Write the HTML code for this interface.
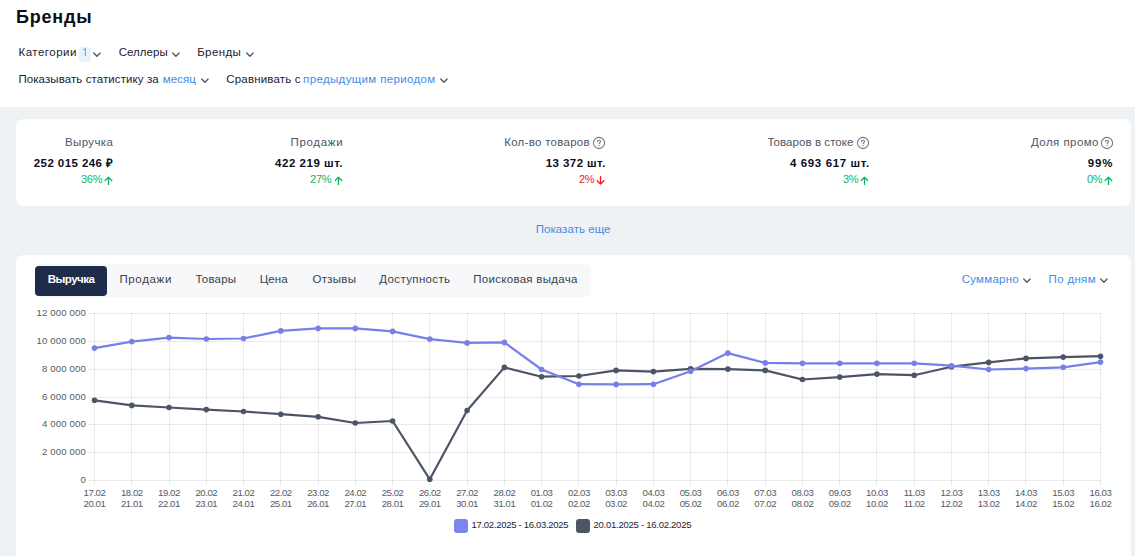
<!DOCTYPE html>
<html><head><meta charset="utf-8">
<style>
*{box-sizing:border-box;margin:0;padding:0}
html,body{width:1135px;height:556px;overflow:hidden;background:#fff}
body{position:relative;font-family:"Liberation Sans",sans-serif;color:#1d2130}
.a{position:absolute;white-space:nowrap;line-height:1}
.gray{position:absolute;left:0;top:107px;width:1135px;height:449px;background:#eef2f5}
.card{position:absolute;background:#fff;border-radius:8px}
.f12{font-size:12px}
.blue{color:#3d8ce8}
.lab{color:#4f5563}
.val{font-weight:bold;color:#0c0f1c}
.up{color:#17b26a}
.dn{color:#f0181c}
.ic{position:absolute}
.chart{position:absolute;left:0;top:0}
.tabs{position:absolute;left:35px;top:264px;width:556px;height:33px;background:#f6f8fa;border-radius:6px}
.tab-act{position:absolute;left:35px;top:266px;width:72px;height:30px;background:#1f2b4b;border-radius:4px}
.tab{color:#3f4654}
</style></head><body>
<div class="a" style="left:15.9px;top:8px;font-size:18px;font-weight:bold;letter-spacing:0.820px;color:#0b0e17">Бренды</div>
<div class="a" style="left:18.5px;top:47px;font-size:11.5px;letter-spacing:0.486px;color:#1d2130">Категории</div>
<div style="position:absolute;left:79px;top:47px;width:12px;height:15px;background:#e7f2fd;border-radius:3px"></div>
<svg class="ic" style="left:79px;top:47px" width="12" height="15"><path d="M4.1,2.6 L6.4,1.9 V9" fill="none" stroke="#5aa3f2" stroke-width="1.05" stroke-linejoin="round"/></svg>
<svg class="ic" style="left:92px;top:51px" width="10" height="7"><polyline points="1.7,2.0 4.9,5.2 8.1,2.0" fill="none" stroke="#4d5666" stroke-width="1.3" stroke-linecap="round" stroke-linejoin="round"/></svg>
<div class="a" style="left:118.7px;top:47px;font-size:11.5px;letter-spacing:0.034px;color:#1d2130">Селлеры</div>
<svg class="ic" style="left:171px;top:51px" width="10" height="7"><polyline points="1.7,2.0 4.9,5.2 8.1,2.0" fill="none" stroke="#4d5666" stroke-width="1.3" stroke-linecap="round" stroke-linejoin="round"/></svg>
<div class="a" style="left:197.2px;top:47px;font-size:11.5px;letter-spacing:0.380px;color:#1d2130">Бренды</div>
<svg class="ic" style="left:245px;top:51px" width="10" height="7"><polyline points="1.7,2.0 4.9,5.2 8.1,2.0" fill="none" stroke="#4d5666" stroke-width="1.3" stroke-linecap="round" stroke-linejoin="round"/></svg>
<div class="a" style="left:18.4px;top:74px;font-size:11.5px;letter-spacing:0.087px;color:#1d2130">Показывать статистику за</div>
<div class="a" style="left:162.8px;top:74px;font-size:11.5px;letter-spacing:0.050px;color:#3d8ce8">месяц</div>
<svg class="ic" style="left:200px;top:77px" width="10" height="7"><polyline points="1.7,2.0 4.9,5.2 8.1,2.0" fill="none" stroke="#4d5666" stroke-width="1.3" stroke-linecap="round" stroke-linejoin="round"/></svg>
<div class="a" style="left:226.3px;top:74px;font-size:11.5px;letter-spacing:0.164px;color:#1d2130">Сравнивать с</div>
<div class="a" style="left:303.1px;top:74px;font-size:11.5px;letter-spacing:0.351px;color:#3d8ce8">предыдущим периодом</div>
<svg class="ic" style="left:439px;top:77px" width="10" height="7"><polyline points="1.7,2.0 4.9,5.2 8.1,2.0" fill="none" stroke="#4d5666" stroke-width="1.3" stroke-linecap="round" stroke-linejoin="round"/></svg>
<div class="gray"></div>
<div class="card" style="left:16px;top:119px;width:1115px;height:87px"></div>
<div class="a" style="left:65.1px;top:137px;font-size:11.5px;letter-spacing:0.350px;color:#4f5563">Выручка</div>
<div class="a" style="left:290.5px;top:137px;font-size:11.5px;letter-spacing:0.684px;color:#4f5563">Продажи</div>
<div class="a" style="left:504.2px;top:137px;font-size:11.5px;letter-spacing:0.284px;color:#4f5563">Кол-во товаров</div>
<div class="a" style="left:767.4px;top:137px;font-size:11.5px;letter-spacing:0.064px;color:#4f5563">Товаров в стоке</div>
<div class="a" style="left:1031.0px;top:137px;font-size:11.5px;letter-spacing:0.444px;color:#4f5563">Доля промо</div>
<div class="a" style="left:33.8px;top:158px;font-size:11.5px;font-weight:bold;letter-spacing:0.417px;color:#0c0f1c">252 015 246 ₽</div>
<div class="a" style="left:275.1px;top:158px;font-size:11.5px;font-weight:bold;letter-spacing:0.530px;color:#0c0f1c">422 219 шт.</div>
<div class="a" style="left:545.7px;top:158px;font-size:11.5px;font-weight:bold;letter-spacing:0.433px;color:#0c0f1c">13 372 шт.</div>
<div class="a" style="left:790.0px;top:158px;font-size:11.5px;font-weight:bold;letter-spacing:0.616px;color:#0c0f1c">4 693 617 шт.</div>
<div class="a" style="left:1087.8px;top:158px;font-size:11.5px;font-weight:bold;letter-spacing:0.800px;color:#0c0f1c">99%</div>
<div class="a" style="left:80.9px;top:174px;font-size:11px;letter-spacing:-0.250px;color:#10b263">36%</div>
<div class="a" style="left:310.1px;top:174px;font-size:11px;letter-spacing:-0.250px;color:#10b263">27%</div>
<div class="a" style="left:579.0px;top:174px;font-size:11px;letter-spacing:-0.250px;color:#f0181c">2%</div>
<div class="a" style="left:842.9px;top:174px;font-size:11px;letter-spacing:-0.250px;color:#10b263">3%</div>
<div class="a" style="left:1086.9px;top:174px;font-size:11px;letter-spacing:-0.250px;color:#10b263">0%</div>
<svg class="ic" style="left:592px;top:136px" width="14" height="14"><circle cx="7" cy="7" r="5.6" fill="none" stroke="#737a86" stroke-width="1.1"/><path d="M5.5,5.7 C5.5,4.8 6.2,4.3 7,4.3 C7.8,4.3 8.5,4.8 8.5,5.6 C8.5,6.5 7.1,6.7 7.1,7.8" fill="none" stroke="#737a86" stroke-width="1.1" stroke-linecap="round"/><circle cx="7.1" cy="9.7" r="0.7" fill="#737a86"/></svg>
<svg class="ic" style="left:856px;top:136px" width="14" height="14"><circle cx="7" cy="7" r="5.6" fill="none" stroke="#737a86" stroke-width="1.1"/><path d="M5.5,5.7 C5.5,4.8 6.2,4.3 7,4.3 C7.8,4.3 8.5,4.8 8.5,5.6 C8.5,6.5 7.1,6.7 7.1,7.8" fill="none" stroke="#737a86" stroke-width="1.1" stroke-linecap="round"/><circle cx="7.1" cy="9.7" r="0.7" fill="#737a86"/></svg>
<svg class="ic" style="left:1100px;top:136px" width="14" height="14"><circle cx="7" cy="7" r="5.6" fill="none" stroke="#737a86" stroke-width="1.1"/><path d="M5.5,5.7 C5.5,4.8 6.2,4.3 7,4.3 C7.8,4.3 8.5,4.8 8.5,5.6 C8.5,6.5 7.1,6.7 7.1,7.8" fill="none" stroke="#737a86" stroke-width="1.1" stroke-linecap="round"/><circle cx="7.1" cy="9.7" r="0.7" fill="#737a86"/></svg>
<svg class="ic" style="left:103px;top:175px" width="10" height="11"><path d="M5.5,9.6 V2.3 M2.2,5.5 L5.5,2.2 L8.8,5.5" fill="none" stroke="#10b263" stroke-width="1.3" stroke-linecap="round" stroke-linejoin="round"/></svg>
<svg class="ic" style="left:333px;top:175px" width="10" height="11"><path d="M5.5,9.6 V2.3 M2.2,5.5 L5.5,2.2 L8.8,5.5" fill="none" stroke="#10b263" stroke-width="1.3" stroke-linecap="round" stroke-linejoin="round"/></svg>
<svg class="ic" style="left:595px;top:175px" width="10" height="11"><path d="M5.5,1.6 V9 M2.2,5.8 L5.5,9.1 L8.8,5.8" fill="none" stroke="#f5141e" stroke-width="1.3" stroke-linecap="round" stroke-linejoin="round"/></svg>
<svg class="ic" style="left:859px;top:175px" width="10" height="11"><path d="M5.5,9.6 V2.3 M2.2,5.5 L5.5,2.2 L8.8,5.5" fill="none" stroke="#10b263" stroke-width="1.3" stroke-linecap="round" stroke-linejoin="round"/></svg>
<svg class="ic" style="left:1103px;top:175px" width="10" height="11"><path d="M5.5,9.6 V2.3 M2.2,5.5 L5.5,2.2 L8.8,5.5" fill="none" stroke="#10b263" stroke-width="1.3" stroke-linecap="round" stroke-linejoin="round"/></svg>
<div class="a" style="left:535.7px;top:224px;font-size:11.5px;letter-spacing:0.054px;color:#3f8de6">Показать еще</div>
<div class="card" style="left:16px;top:255px;width:1115px;height:320px"></div>
<div class="tabs"></div><div class="tab-act"></div>
<div class="a" style="left:47.7px;top:274px;font-size:11.5px;font-weight:bold;letter-spacing:-0.517px;color:#ffffff">Выручка</div>
<div class="a" style="left:119.4px;top:274px;font-size:11.5px;letter-spacing:0.650px;color:#3a4150">Продажи</div>
<div class="a" style="left:195.5px;top:274px;font-size:11.5px;letter-spacing:0.200px;color:#3a4150">Товары</div>
<div class="a" style="left:259.7px;top:274px;font-size:11.5px;letter-spacing:0.099px;color:#3a4150">Цена</div>
<div class="a" style="left:312.5px;top:274px;font-size:11.5px;letter-spacing:0.280px;color:#3a4150">Отзывы</div>
<div class="a" style="left:379.3px;top:274px;font-size:11.5px;letter-spacing:0.360px;color:#3a4150">Доступность</div>
<div class="a" style="left:473.3px;top:274px;font-size:11.5px;letter-spacing:0.287px;color:#3a4150">Поисковая выдача</div>
<div class="a" style="left:961.7px;top:274px;font-size:11.5px;letter-spacing:0.243px;color:#3d8ce8">Суммарно</div>
<div class="a" style="left:1048.6px;top:274px;font-size:11.5px;letter-spacing:0.317px;color:#3d8ce8">По дням</div>
<svg class="ic" style="left:1022px;top:277px" width="10" height="7"><polyline points="1.7,2.0 4.9,5.2 8.1,2.0" fill="none" stroke="#4d5666" stroke-width="1.3" stroke-linecap="round" stroke-linejoin="round"/></svg>
<svg class="ic" style="left:1099px;top:277px" width="10" height="7"><polyline points="1.7,2.0 4.9,5.2 8.1,2.0" fill="none" stroke="#4d5666" stroke-width="1.3" stroke-linecap="round" stroke-linejoin="round"/></svg>
<svg class="chart" width="1135" height="556" viewBox="0 0 1135 556">
<g stroke="#000" stroke-opacity="0.08" stroke-width="1" fill="none">
<line x1="88" y1="313.5" x2="1101" y2="313.5"/>
<line x1="88" y1="341.5" x2="1101" y2="341.5"/>
<line x1="88" y1="369.5" x2="1101" y2="369.5"/>
<line x1="88" y1="397.5" x2="1101" y2="397.5"/>
<line x1="88" y1="424.5" x2="1101" y2="424.5"/>
<line x1="88" y1="452.5" x2="1101" y2="452.5"/>
<line x1="88" y1="480.5" x2="1101" y2="480.5"/>
<line x1="94.5" y1="313" x2="94.5" y2="486"/>
<line x1="131.5" y1="313" x2="131.5" y2="486"/>
<line x1="169.5" y1="313" x2="169.5" y2="486"/>
<line x1="206.5" y1="313" x2="206.5" y2="486"/>
<line x1="243.5" y1="313" x2="243.5" y2="486"/>
<line x1="280.5" y1="313" x2="280.5" y2="486"/>
<line x1="318.5" y1="313" x2="318.5" y2="486"/>
<line x1="355.5" y1="313" x2="355.5" y2="486"/>
<line x1="392.5" y1="313" x2="392.5" y2="486"/>
<line x1="429.5" y1="313" x2="429.5" y2="486"/>
<line x1="467.5" y1="313" x2="467.5" y2="486"/>
<line x1="504.5" y1="313" x2="504.5" y2="486"/>
<line x1="541.5" y1="313" x2="541.5" y2="486"/>
<line x1="578.5" y1="313" x2="578.5" y2="486"/>
<line x1="616.5" y1="313" x2="616.5" y2="486"/>
<line x1="653.5" y1="313" x2="653.5" y2="486"/>
<line x1="690.5" y1="313" x2="690.5" y2="486"/>
<line x1="727.5" y1="313" x2="727.5" y2="486"/>
<line x1="765.5" y1="313" x2="765.5" y2="486"/>
<line x1="802.5" y1="313" x2="802.5" y2="486"/>
<line x1="839.5" y1="313" x2="839.5" y2="486"/>
<line x1="876.5" y1="313" x2="876.5" y2="486"/>
<line x1="914.5" y1="313" x2="914.5" y2="486"/>
<line x1="951.5" y1="313" x2="951.5" y2="486"/>
<line x1="988.5" y1="313" x2="988.5" y2="486"/>
<line x1="1025.5" y1="313" x2="1025.5" y2="486"/>
<line x1="1063.5" y1="313" x2="1063.5" y2="486"/>
<line x1="1100.5" y1="313" x2="1100.5" y2="486"/>
</g>
<g font-family="Liberation Sans, sans-serif" font-size="9.6" fill="#555b66" text-anchor="end" letter-spacing="0.15">
<text x="86" y="315.6">12 000 000</text>
<text x="86" y="343.6">10 000 000</text>
<text x="86" y="371.6">8 000 000</text>
<text x="86" y="399.6">6 000 000</text>
<text x="86" y="426.6">4 000 000</text>
<text x="86" y="454.6">2 000 000</text>
<text x="86" y="482.6">0</text>
</g>
<g font-family="Liberation Sans, sans-serif" font-size="9.6" fill="#555b66" text-anchor="middle" letter-spacing="-0.45">
<text x="94.5" y="496">17.02</text><text x="94.5" y="507">20.01</text>
<text x="131.8" y="496">18.02</text><text x="131.8" y="507">21.01</text>
<text x="169.0" y="496">19.02</text><text x="169.0" y="507">22.01</text>
<text x="206.3" y="496">20.02</text><text x="206.3" y="507">23.01</text>
<text x="243.5" y="496">21.02</text><text x="243.5" y="507">24.01</text>
<text x="280.8" y="496">22.02</text><text x="280.8" y="507">25.01</text>
<text x="318.1" y="496">23.02</text><text x="318.1" y="507">26.01</text>
<text x="355.3" y="496">24.02</text><text x="355.3" y="507">27.01</text>
<text x="392.6" y="496">25.02</text><text x="392.6" y="507">28.01</text>
<text x="429.8" y="496">26.02</text><text x="429.8" y="507">29.01</text>
<text x="467.1" y="496">27.02</text><text x="467.1" y="507">30.01</text>
<text x="504.4" y="496">28.02</text><text x="504.4" y="507">31.01</text>
<text x="541.6" y="496">01.03</text><text x="541.6" y="507">01.02</text>
<text x="578.9" y="496">02.03</text><text x="578.9" y="507">02.02</text>
<text x="616.1" y="496">03.03</text><text x="616.1" y="507">03.02</text>
<text x="653.4" y="496">04.03</text><text x="653.4" y="507">04.02</text>
<text x="690.6" y="496">05.03</text><text x="690.6" y="507">05.02</text>
<text x="727.9" y="496">06.03</text><text x="727.9" y="507">06.02</text>
<text x="765.2" y="496">07.03</text><text x="765.2" y="507">07.02</text>
<text x="802.4" y="496">08.03</text><text x="802.4" y="507">08.02</text>
<text x="839.7" y="496">09.03</text><text x="839.7" y="507">09.02</text>
<text x="876.9" y="496">10.03</text><text x="876.9" y="507">10.02</text>
<text x="914.2" y="496">11.03</text><text x="914.2" y="507">11.02</text>
<text x="951.5" y="496">12.03</text><text x="951.5" y="507">12.02</text>
<text x="988.7" y="496">13.03</text><text x="988.7" y="507">13.02</text>
<text x="1026.0" y="496">14.03</text><text x="1026.0" y="507">14.02</text>
<text x="1063.2" y="496">15.03</text><text x="1063.2" y="507">15.02</text>
<text x="1100.5" y="496">16.03</text><text x="1100.5" y="507">16.02</text>
</g>
<polyline points="94.5,400.3 131.8,405.4 169.0,407.5 206.3,409.6 243.5,411.5 280.8,414.2 318.1,416.8 355.3,423.0 392.6,421.0 429.8,479.3 467.1,410.5 504.4,367.4 541.6,376.7 578.9,376.0 616.1,370.4 653.4,371.6 690.6,368.9 727.9,369.1 765.2,370.4 802.4,379.5 839.7,377.1 876.9,374.1 914.2,375.2 951.5,366.7 988.7,362.4 1026.0,358.4 1063.2,357.1 1100.5,356.2" fill="none" stroke="#4b5564" stroke-width="2.2" stroke-linejoin="round"/><circle cx="94.5" cy="400.3" r="2.8" fill="#4b5564"/><circle cx="131.8" cy="405.4" r="2.8" fill="#4b5564"/><circle cx="169.0" cy="407.5" r="2.8" fill="#4b5564"/><circle cx="206.3" cy="409.6" r="2.8" fill="#4b5564"/><circle cx="243.5" cy="411.5" r="2.8" fill="#4b5564"/><circle cx="280.8" cy="414.2" r="2.8" fill="#4b5564"/><circle cx="318.1" cy="416.8" r="2.8" fill="#4b5564"/><circle cx="355.3" cy="423.0" r="2.8" fill="#4b5564"/><circle cx="392.6" cy="421.0" r="2.8" fill="#4b5564"/><circle cx="429.8" cy="479.3" r="2.8" fill="#4b5564"/><circle cx="467.1" cy="410.5" r="2.8" fill="#4b5564"/><circle cx="504.4" cy="367.4" r="2.8" fill="#4b5564"/><circle cx="541.6" cy="376.7" r="2.8" fill="#4b5564"/><circle cx="578.9" cy="376.0" r="2.8" fill="#4b5564"/><circle cx="616.1" cy="370.4" r="2.8" fill="#4b5564"/><circle cx="653.4" cy="371.6" r="2.8" fill="#4b5564"/><circle cx="690.6" cy="368.9" r="2.8" fill="#4b5564"/><circle cx="727.9" cy="369.1" r="2.8" fill="#4b5564"/><circle cx="765.2" cy="370.4" r="2.8" fill="#4b5564"/><circle cx="802.4" cy="379.5" r="2.8" fill="#4b5564"/><circle cx="839.7" cy="377.1" r="2.8" fill="#4b5564"/><circle cx="876.9" cy="374.1" r="2.8" fill="#4b5564"/><circle cx="914.2" cy="375.2" r="2.8" fill="#4b5564"/><circle cx="951.5" cy="366.7" r="2.8" fill="#4b5564"/><circle cx="988.7" cy="362.4" r="2.8" fill="#4b5564"/><circle cx="1026.0" cy="358.4" r="2.8" fill="#4b5564"/><circle cx="1063.2" cy="357.1" r="2.8" fill="#4b5564"/><circle cx="1100.5" cy="356.2" r="2.8" fill="#4b5564"/>
<polyline points="94.5,348.1 131.8,341.6 169.0,337.6 206.3,339.0 243.5,338.5 280.8,330.9 318.1,328.4 355.3,328.4 392.6,331.4 429.8,339.1 467.1,342.9 504.4,342.4 541.6,369.5 578.9,384.2 616.1,384.4 653.4,384.2 690.6,371.3 727.9,353.1 765.2,362.9 802.4,363.3 839.7,363.3 876.9,363.3 914.2,363.3 951.5,365.7 988.7,369.5 1026.0,368.6 1063.2,367.3 1100.5,362.1" fill="none" stroke="#7580e8" stroke-width="2.2" stroke-linejoin="round"/><circle cx="94.5" cy="348.1" r="2.8" fill="#7580e8"/><circle cx="131.8" cy="341.6" r="2.8" fill="#7580e8"/><circle cx="169.0" cy="337.6" r="2.8" fill="#7580e8"/><circle cx="206.3" cy="339.0" r="2.8" fill="#7580e8"/><circle cx="243.5" cy="338.5" r="2.8" fill="#7580e8"/><circle cx="280.8" cy="330.9" r="2.8" fill="#7580e8"/><circle cx="318.1" cy="328.4" r="2.8" fill="#7580e8"/><circle cx="355.3" cy="328.4" r="2.8" fill="#7580e8"/><circle cx="392.6" cy="331.4" r="2.8" fill="#7580e8"/><circle cx="429.8" cy="339.1" r="2.8" fill="#7580e8"/><circle cx="467.1" cy="342.9" r="2.8" fill="#7580e8"/><circle cx="504.4" cy="342.4" r="2.8" fill="#7580e8"/><circle cx="541.6" cy="369.5" r="2.8" fill="#7580e8"/><circle cx="578.9" cy="384.2" r="2.8" fill="#7580e8"/><circle cx="616.1" cy="384.4" r="2.8" fill="#7580e8"/><circle cx="653.4" cy="384.2" r="2.8" fill="#7580e8"/><circle cx="690.6" cy="371.3" r="2.8" fill="#7580e8"/><circle cx="727.9" cy="353.1" r="2.8" fill="#7580e8"/><circle cx="765.2" cy="362.9" r="2.8" fill="#7580e8"/><circle cx="802.4" cy="363.3" r="2.8" fill="#7580e8"/><circle cx="839.7" cy="363.3" r="2.8" fill="#7580e8"/><circle cx="876.9" cy="363.3" r="2.8" fill="#7580e8"/><circle cx="914.2" cy="363.3" r="2.8" fill="#7580e8"/><circle cx="951.5" cy="365.7" r="2.8" fill="#7580e8"/><circle cx="988.7" cy="369.5" r="2.8" fill="#7580e8"/><circle cx="1026.0" cy="368.6" r="2.8" fill="#7580e8"/><circle cx="1063.2" cy="367.3" r="2.8" fill="#7580e8"/><circle cx="1100.5" cy="362.1" r="2.8" fill="#7580e8"/>
</svg><div style="position:absolute;left:454px;top:519px;width:14px;height:14px;background:#7b85ec;border-radius:3px"></div>
<div class="a" style="left:471.5px;top:520px;font-size:9.5px;letter-spacing:-0.291px;color:#1f2430">17.02.2025 - 16.03.2025</div>
<div style="position:absolute;left:576px;top:519px;width:14px;height:14px;background:#4b5564;border-radius:3px"></div>
<div class="a" style="left:593.5px;top:520px;font-size:9.5px;letter-spacing:-0.254px;color:#1f2430">20.01.2025 - 16.02.2025</div>
</body></html>
